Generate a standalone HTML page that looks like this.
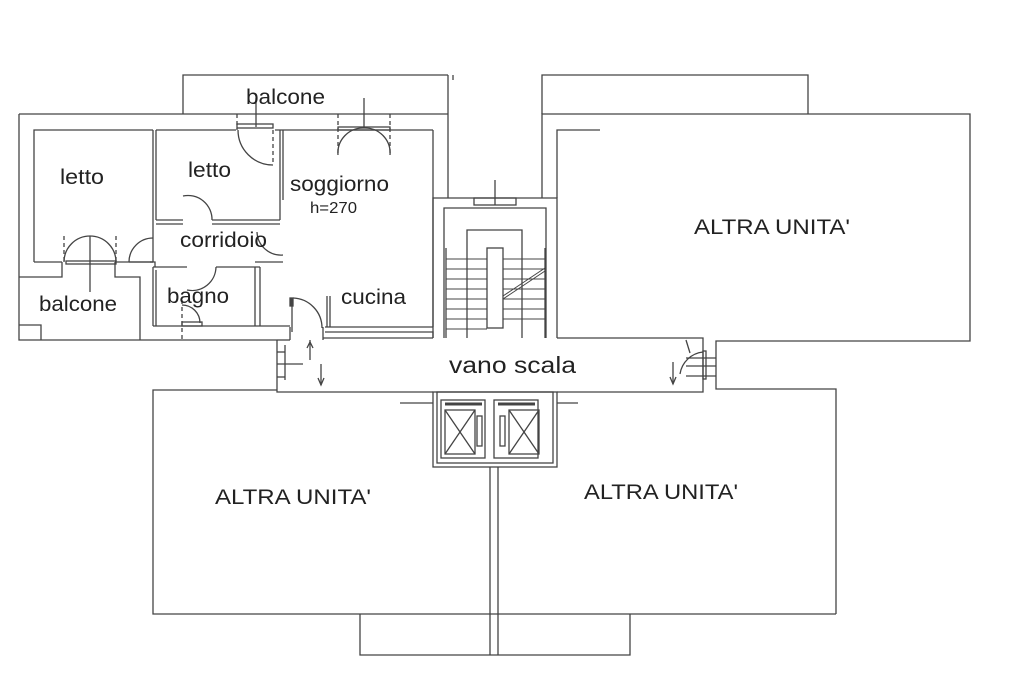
<!DOCTYPE html>
<html><head><meta charset="utf-8"><style>
html,body{margin:0;padding:0;background:#fff;}
svg{display:block;}
text{font-family:"Liberation Sans",sans-serif;fill:#222;}
</style></head><body>
<svg width="1024" height="682" viewBox="0 0 1024 682" xmlns="http://www.w3.org/2000/svg">
<g fill="none" stroke="#444" stroke-width="1.3">
<polyline points="183,114 183,75 448,75"/>
<line x1="453" y1="75" x2="453" y2="80"/>
<polyline points="19,114 448,114"/>
<polyline points="448,75 448,198"/>
<polyline points="19,114 19,340 277,340"/>
<polyline points="34,262 34,130 153,130"/>
<polyline points="34,262 62,262"/><polyline points="115,262 153,262"/>
<line x1="153" y1="130" x2="153" y2="262"/>
<line x1="156" y1="130" x2="156" y2="220"/>
<polyline points="156,130 236,130"/><polyline points="275,130 433,130"/>
<line x1="280" y1="130" x2="280" y2="220"/>
<line x1="283" y1="130" x2="283" y2="200"/>
<polyline points="156,220 183,220"/><polyline points="212,220 280,220"/>
<polyline points="156,224 183,224"/><polyline points="212,224 280,224"/>
<line x1="433" y1="130" x2="433" y2="327"/>
<polyline points="325,327 433,327"/>
<polyline points="325,332 433,332 433,338"/>
<polyline points="62,262 62,277 19,277"/>
<polyline points="115,262 115,277 140,277 140,340"/>
<polyline points="19,325 41,325 41,340"/>
<polyline points="129,262 153,262"/>
<polyline points="153,267 187,267"/><polyline points="216,267 260,267"/>
<line x1="153" y1="267" x2="153" y2="326"/>
<line x1="156" y1="270" x2="156" y2="326"/>
<polyline points="153,326 290,326"/>
<line x1="255" y1="267" x2="255" y2="326"/>
<line x1="260" y1="267" x2="260" y2="326"/>
<polyline points="150,262 155,262 155,267"/>
<polyline points="255,262 283,262"/>
<path d="M129,262 A24,24 0 0 1 153,238"/>
<path d="M183,196 A24,24 0 0 1 212,220"/>
<path d="M187,290 A24,24 0 0 0 216,267"/>
<path d="M257,232 A24,24 0 0 0 283,255"/>
<path d="M182,305 A18,18 0 0 1 200,323"/>
<line x1="182" y1="300" x2="182" y2="340" stroke-dasharray="4,3"/>
<rect x="182" y="322" width="20" height="4"/>
<path d="M238,130 A35,35 0 0 0 273,165"/>
<line x1="273" y1="130" x2="273" y2="165" stroke-dasharray="4,3"/>
<line x1="237" y1="114" x2="237" y2="130" stroke-dasharray="4,3"/>
<line x1="256" y1="98" x2="256" y2="127"/>
<rect x="237" y="124" width="36" height="4"/>
<path d="M338,155 A25,25 0 0 1 364,128 A25,25 0 0 1 390,155"/>
<line x1="338" y1="114" x2="338" y2="155" stroke-dasharray="4,3"/>
<line x1="390" y1="114" x2="390" y2="155" stroke-dasharray="4,3"/>
<line x1="364" y1="98" x2="364" y2="128"/>
<rect x="338" y="127" width="52" height="3"/>
<path d="M64,262 A26,26 0 0 1 90,236 A26,26 0 0 1 116,262"/>
<line x1="64" y1="236" x2="64" y2="262" stroke-dasharray="4,3"/>
<line x1="116" y1="236" x2="116" y2="262" stroke-dasharray="4,3"/>
<line x1="90" y1="236" x2="90" y2="292"/>
<rect x="66" y="261" width="50" height="3"/>
<line x1="292" y1="298" x2="292" y2="332"/>
<rect x="290" y="298" width="3" height="8" fill="#444"/>
<path d="M293,298 A30,30 0 0 1 322,328"/>
<line x1="330" y1="296" x2="330" y2="327"/>
<line x1="327" y1="296" x2="327" y2="327"/>
<polyline points="290,327 290,340"/><polyline points="323,327 323,340"/>
<polyline points="277,340 277,392 290,392"/>
<polyline points="277,340 290,340"/>
<line x1="285" y1="345" x2="285" y2="380"/>
<line x1="277" y1="352" x2="285" y2="352"/><line x1="277" y1="364" x2="303" y2="364"/><line x1="277" y1="377" x2="285" y2="377"/>
<line x1="310" y1="340" x2="310" y2="360"/><polyline points="307,348 310,342 313,348"/>
<line x1="321" y1="364" x2="321" y2="385"/><polyline points="318,378 321,385 324,378"/>
<polyline points="323,338 433,338"/>
<polyline points="290,392 433,392"/>
<polyline points="557,338 703,338 703,392 557,392"/>
<line x1="400" y1="403" x2="433" y2="403"/>
<line x1="557" y1="403" x2="578" y2="403"/>
<rect x="703" y="351" width="3" height="28"/>
<line x1="686" y1="358" x2="716" y2="358"/><line x1="686" y1="366" x2="716" y2="366"/><line x1="686" y1="376" x2="716" y2="376"/>
<path d="M680,374 A26,26 0 0 1 703,352"/>
<polyline points="686,340 690,353"/>
<line x1="673" y1="362" x2="673" y2="384"/><polyline points="670,377 673,384 676,377"/>
<polyline points="433,338 433,198 557,198 557,338"/>
<polyline points="444,338 444,208 546,208 546,338"/>
<rect x="474" y="198" width="42" height="7"/>
<line x1="495" y1="180" x2="495" y2="205"/>
<polyline points="467,338 467,230 522,230 522,338"/>
<rect x="487" y="248" width="16" height="80"/>
<line x1="446" y1="248" x2="446" y2="338"/>
<line x1="545" y1="248" x2="545" y2="338"/>
<g stroke-width="1">
<line x1="446" y1="259" x2="487" y2="259"/><line x1="446" y1="269" x2="487" y2="269"/><line x1="446" y1="279" x2="487" y2="279"/><line x1="446" y1="289" x2="487" y2="289"/><line x1="446" y1="299" x2="487" y2="299"/><line x1="446" y1="309" x2="487" y2="309"/><line x1="446" y1="319" x2="487" y2="319"/><line x1="446" y1="329" x2="487" y2="329"/>
<line x1="503" y1="259" x2="545" y2="259"/><line x1="503" y1="269" x2="545" y2="269"/><line x1="503" y1="279" x2="545" y2="279"/><line x1="503" y1="289" x2="545" y2="289"/><line x1="503" y1="299" x2="545" y2="299"/><line x1="503" y1="309" x2="545" y2="309"/><line x1="503" y1="319" x2="545" y2="319"/>
<line x1="503" y1="296" x2="545" y2="268"/><line x1="503" y1="299" x2="545" y2="271"/>
</g>
<rect x="433" y="392" width="124" height="75"/>
<rect x="437" y="392" width="116" height="71"/>
<rect x="441" y="400" width="44" height="58"/>
<rect x="494" y="400" width="44" height="58"/>
<rect x="445" y="410" width="30" height="44"/>
<line x1="445" y1="410" x2="475" y2="454"/><line x1="475" y1="410" x2="445" y2="454"/>
<rect x="509" y="410" width="30" height="44"/>
<line x1="509" y1="410" x2="539" y2="454"/><line x1="539" y1="410" x2="509" y2="454"/>
<rect x="477" y="416" width="5" height="30"/><rect x="500" y="416" width="5" height="30"/>
<line x1="445" y1="404" x2="482" y2="404" stroke-width="3"/>
<line x1="498" y1="404" x2="535" y2="404" stroke-width="3"/>
<polyline points="542,114 542,75 808,75 808,114"/>
<polyline points="542,198 542,114 970,114 970,341 716,341 716,389 836,389 836,614"/>
<polyline points="557,198 557,130 600,130"/>
<polyline points="277,390 153,390 153,614 836,614"/>
<line x1="490" y1="467" x2="490" y2="655"/>
<line x1="498" y1="467" x2="498" y2="655"/>
<polyline points="360,614 360,655 630,655 630,614"/>
</g>
<g font-size="21">
<text x="60" y="184" textLength="44" lengthAdjust="spacingAndGlyphs">letto</text>
<text x="188" y="177" textLength="43" lengthAdjust="spacingAndGlyphs">letto</text>
<text x="290" y="191" textLength="99" lengthAdjust="spacingAndGlyphs">soggiorno</text>
<text x="310" y="213" font-size="16" textLength="47" lengthAdjust="spacingAndGlyphs">h=270</text>
<text x="180" y="247" textLength="87" lengthAdjust="spacingAndGlyphs">corridoio</text>
<text x="167" y="303" textLength="62" lengthAdjust="spacingAndGlyphs">bagno</text>
<text x="341" y="304" textLength="65" lengthAdjust="spacingAndGlyphs">cucina</text>
<text x="39" y="311" textLength="78" lengthAdjust="spacingAndGlyphs">balcone</text>
<text x="246" y="104" textLength="79" lengthAdjust="spacingAndGlyphs">balcone</text>
<text x="449" y="373" font-size="23" textLength="127" lengthAdjust="spacingAndGlyphs">vano scala</text>
<text x="694" y="234" textLength="156" lengthAdjust="spacingAndGlyphs">ALTRA UNITA'</text>
<text x="215" y="504" textLength="156" lengthAdjust="spacingAndGlyphs">ALTRA UNITA'</text>
<text x="584" y="499" textLength="154" lengthAdjust="spacingAndGlyphs">ALTRA UNITA'</text>
</g>
</svg>
</body></html>
